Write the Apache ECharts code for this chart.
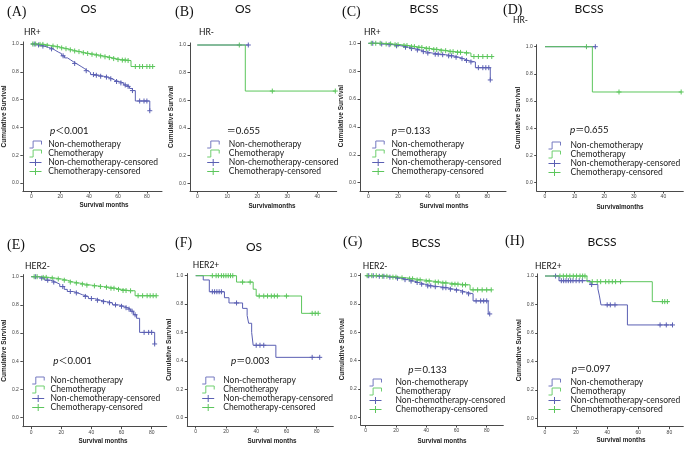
<!DOCTYPE html>
<html><head><meta charset="utf-8">
<script src="https://cdn.jsdelivr.net/npm/echarts@6/dist/echarts.min.js"></script>
<style>html,body{margin:0;padding:0;background:#fff}#c{width:687px;height:450px}</style>
</head><body><div id="c"></div>
<script>
// ---------------- DATA ----------------
const panelLetters = ['(A)','(B)','(C)','(D)','(E)','(F)','(G)','(H)'];
const panelTitles  = ['OS','OS','BCSS','BCSS','OS','OS','BCSS','BCSS'];
const subgroups    = ['HR+','HR-','HR+','HR-','HER2-','HER2+','HER2-','HER2+'];
const pPrefix      = ['p','','p','p','p','p','p','p'];
const pSign        = ['＜','＝','＝','＝','＜','＝','＝','＝'];
const pValues      = ['0.001','0.655','0.133','0.655','0.001','0.003','0.133','0.097'];
const xTitles      = ['Survival months','Survivalmonths','Survival months','Survivalmonths',
                      'Survival months','Survival months','Survival months','Survival months'];
const yTitle       = 'Cumulative Survival';
const legendNames  = ['Non-chemotherapy','Chemotherapy','Non-chemotherapy-censored','Chemotherapy-censored'];
const xTicksLong   = [0,20,40,60,80];
const xTicksShort  = [0,10,20,30,40];
const yTicks       = [0,0.2,0.4,0.6,0.8,1.0];

// Kaplan-Meier steps: [month, cumulative survival after that month's events]; censored: months
const A_non = [[0,1],[3,0.993],[6,0.985],[9,0.975],[12,0.965],[15,0.952],[17,0.94],[19,0.93],[21,0.915],[23,0.9],[25,0.887],[27,0.873],[29,0.86],[31,0.848],[33,0.835],[35,0.822],[37,0.808],[39,0.795],[41,0.78],[44,0.775],[47,0.768],[50,0.762],[53,0.75],[56,0.738],[58,0.73],[61,0.72],[64,0.705],[66,0.695],[68,0.68],[70,0.665],[72,0.59],[82,0.52]];
const A_nonCens = [2,5,8,14,22,30,38,43,45,48,52,55,59,62,65,67,70,75,78,80,82];
const A_chemo = [[0,1],[4,0.997],[9,0.99],[13,0.985],[16,0.98],[19,0.972],[22,0.966],[25,0.958],[28,0.95],[31,0.945],[34,0.937],[37,0.932],[40,0.926],[44,0.92],[47,0.914],[50,0.908],[53,0.902],[56,0.895],[59,0.888],[62,0.884],[66,0.881],[69,0.838],[84,0.838]];
const A_chemoCens = [1,3,6,8,11,15,18,21,24,27,30,33,36,39,42,45,48,51,54,57,60,63,65,67,72,75,77,80,82,84];

const B_non = [[0,1],[17,1]];
const B_nonCens = [17];
const B_chemo = [[0,1],[16,0.667],[46,0.667]];
const B_chemoCens = [14,25,46];

const C_non = [[0,1],[6,0.995],[12,0.99],[17,0.982],[22,0.972],[27,0.962],[31,0.952],[35,0.94],[38,0.93],[43,0.922],[48,0.918],[52,0.91],[57,0.9],[61,0.89],[64,0.877],[67,0.866],[72,0.825],[82,0.737]];
const C_nonCens = [3,9,14,19,25,29,33,37,40,45,47,50,54,56,59,63,66,69,74,77,79,81,82];
const C_chemo = [[0,1],[10,0.995],[16,0.99],[22,0.984],[27,0.976],[32,0.97],[37,0.962],[42,0.955],[48,0.947],[53,0.94],[58,0.935],[64,0.93],[69,0.905],[84,0.905]];
const C_chemoCens = [2,5,8,12,15,18,20,24,26,29,31,34,36,39,41,44,46,49,52,55,57,60,62,66,71,74,77,80,83];

const D_non = [[0,1],[17,1]];
const D_nonCens = [17];
const D_chemo = [[0,1],[16,0.667],[46,0.667]];
const D_chemoCens = [14,25,46];

const E_non = [[0,1],[5,0.99],[9,0.975],[13,0.962],[16,0.948],[19,0.93],[22,0.91],[24,0.895],[28,0.885],[31,0.872],[34,0.86],[38,0.845],[42,0.833],[46,0.823],[50,0.815],[54,0.8],[58,0.79],[62,0.78],[64,0.77],[66,0.755],[68,0.73],[70,0.705],[72,0.605],[82,0.523]];
const E_nonCens = [3,7,11,15,21,26,30,36,40,44,48,52,56,60,63,65,67,69,75,78,80,82];
const E_chemo = [[0,1],[6,0.995],[12,0.99],[16,0.984],[20,0.975],[24,0.962],[28,0.955],[32,0.947],[36,0.94],[40,0.935],[44,0.93],[48,0.925],[52,0.918],[56,0.91],[60,0.902],[65,0.9],[69,0.865],[83,0.865]];
const E_chemoCens = [2,4,8,10,14,18,22,26,30,34,37,42,46,50,53,55,58,61,63,66,71,74,77,79,81,83];

const F_non = [[0,1],[5,0.97],[9,0.887],[19,0.845],[22,0.808],[31,0.77],[34,0.72],[35,0.665],[37,0.6],[38,0.51],[53,0.425],[82,0.425]];
const F_nonCens = [11,12.5,14,15.5,17,27,40,42.5,45,77,82];
const F_chemo = [[0,1],[27,0.955],[38,0.905],[40,0.857],[70,0.735],[81,0.735]];
const F_chemoCens = [11,13.5,15,17,18.5,20,21.5,23,24.5,31,36,42,45,47.5,50,52,54,60,77,79,81];

const G_non = [[0,1],[8,0.996],[14,0.99],[19,0.982],[24,0.972],[28,0.962],[32,0.952],[35,0.94],[39,0.928],[44,0.922],[49,0.915],[54,0.905],[58,0.898],[62,0.885],[66,0.872],[71,0.822],[81,0.73],[82,0.73]];
const G_nonCens = [2,5,9,12,16,21,26,30,34,37,41,43,46,51,53,56,60,64,68,73,76,78,80,82];
const G_chemo = [[0,1],[10,0.996],[16,0.99],[22,0.985],[27,0.978],[32,0.97],[38,0.962],[44,0.955],[49,0.948],[55,0.94],[62,0.935],[69,0.9],[83,0.9]];
const G_chemoCens = [1,4,7,11,14,18,20,24,29,31,34,36,40,42,46,48,51,53,57,59,61,64,66,71,74,77,80,83];

const H_non = [[0,1],[9,0.967],[29,0.94],[34,0.91],[35,0.86],[36,0.797],[53,0.656],[82,0.656]];
const H_nonCens = [6.8,10.5,12,13.5,15,16.5,18,20,22,24,30,40,42,45,74,78,82];
const H_chemo = [[0,1],[27,0.96],[69,0.82],[80,0.82]];
const H_chemoCens = [9.6,11.8,13.9,16,18.2,20.3,22.5,24.2,25.7,30.4,33.6,35.8,39,41.1,43.3,45.4,48.6,75.5,77,78.7];

const panels = [
  {non:A_non, nonC:A_nonCens, chemo:A_chemo, chemoC:A_chemoCens, ticks:xTicksLong},
  {non:B_non, nonC:B_nonCens, chemo:B_chemo, chemoC:B_chemoCens, ticks:xTicksShort},
  {non:C_non, nonC:C_nonCens, chemo:C_chemo, chemoC:C_chemoCens, ticks:xTicksLong},
  {non:D_non, nonC:D_nonCens, chemo:D_chemo, chemoC:D_chemoCens, ticks:xTicksShort},
  {non:E_non, nonC:E_nonCens, chemo:E_chemo, chemoC:E_chemoCens, ticks:xTicksLong},
  {non:F_non, nonC:F_nonCens, chemo:F_chemo, chemoC:F_chemoCens, ticks:xTicksLong},
  {non:G_non, nonC:G_nonCens, chemo:G_chemo, chemoC:G_chemoCens, ticks:xTicksLong},
  {non:H_non, nonC:H_nonCens, chemo:H_chemo, chemoC:H_chemoCens, ticks:xTicksLong}
];

// ---------------- LAYOUT (pixels) ----------------
const layout = [
  {axX:20.7, x0:29.3, ppm:1.467, xR:162,   y1:44,    y0:183,   axY:191,   letter:[7,12.5],  title:[88.5,9],   sub:[24,32],     p:[50,131],    leg:[29,144,1.7],   xt:[104,205], yt:6},
  {axX:190,  x0:197.3,ppm:3.0,   xR:336.7, y1:45,    y0:183.3, axY:191,   letter:[175,12.5],title:[243,9],    sub:[199,32],    p:[226.7,131], leg:[206.7,144,4.6],xt:[272,206], yt:174},
  {axX:360,  x0:368.3,ppm:1.4875,xR:506,   y1:43.3,  y0:182.7, axY:191,   letter:[342,12.5],title:[424,9],    sub:[364,32],    p:[391.7,131], leg:[371.7,144,2.3],xt:[444,206], yt:344},
  {axX:536.7,x0:545,  ppm:2.96,  xR:683.3, y1:46.7,  y0:182.7, axY:191,   letter:[503,10.5],title:[589,9],    sub:[513,20],    p:[570,130],   leg:[548,145,5],    xt:[620,207], yt:521},
  {axX:22.7, x0:31,   ppm:1.508, xR:166.7, y1:276.7, y0:417.7, axY:426.7, letter:[7,245],   title:[87.5,248], sub:[25,266.7],  p:[53.3,361],  leg:[31.7,380,1.3], xt:[103,441], yt:5},
  {axX:187.3,x0:195.7,ppm:1.5125,xR:333.3, y1:275.7, y0:417.7, axY:426,   letter:[175,243], title:[254,246.7],sub:[192.7,265], p:[231,361],   leg:[201.7,380,4],  xt:[272,441], yt:174},
  {axX:360.7,x0:365.7,ppm:1.5125,xR:503.3, y1:275.7, y0:417.3, axY:425,   letter:[343,242], title:[426,243.3],sub:[362.7,266.7],p:[408.3,370],leg:[369,382,9],    xt:[442,441], yt:344},
  {axX:537.7,x0:545,  ppm:1.555, xR:683.3, y1:276,   y0:418.3, axY:426.7, letter:[505,241], title:[602,241.7],sub:[535,266.7], p:[571.7,369], leg:[548,382,5],    xt:[621,440], yt:520}
];

const BLUE = '#5a5fb3', GREEN = '#5cc65c', BLUE_L = '#7479c0', GREEN_L = '#6fcf6f';
const AXIS = '#4a4a4a';
const PLUS = 'path://M0,5L10,5M5,0L5,10';
const STEP = 'path://M0,9L3,9L3,1L10,1L10,5';
const Y_MAX = 1.015;
const YT_FS = 6.5;

function survAt(curve, t) {
  let s = curve[0][1];
  for (const [ti, si] of curve) { if (ti <= t) s = si; else break; }
  return s;
}

const grids = [], xAxes = [], yAxes = [], series = [], legends = [], graphics = [];

layout.forEach((L, i) => {
  const P = panels[i];
  const pxPerUnit = L.y0 - L.y1;
  const top = L.y1 - (Y_MAX - 1) * pxPerUnit;
  const yMin = -(L.axY - L.y0) / pxPerUnit;
  const xMin = (L.axX - L.x0) / L.ppm;
  const xMax = (L.xR - L.x0) / L.ppm;
  grids.push({left: L.axX, top: top, width: L.xR - L.axX, height: L.axY - top, containLabel: false});
  xAxes.push({
    type: 'value', gridIndex: i, min: xMin, max: xMax,
    axisLine: {show: true, onZero: false, lineStyle: {color: AXIS, width: 1}},
    axisTick: {show: true, length: 2.5, customValues: P.ticks, lineStyle: {color: AXIS, width: 1}},
    axisLabel: {customValues: P.ticks, fontSize: 5, margin: 3.5, color: '#444', fontFamily: 'Liberation Sans'},
    splitLine: {show: false}
  });
  yAxes.push({
    type: 'value', gridIndex: i, min: yMin, max: Y_MAX,
    name: yTitle, nameLocation: 'middle', nameRotate: 90,
    nameGap: L.axX - L.yt - YT_FS / 2,
    nameTextStyle: {fontSize: YT_FS, fontWeight: 'bold', fontFamily: 'Liberation Sans', color: '#222'},
    axisLine: {show: true, onZero: false, lineStyle: {color: AXIS, width: 1}},
    axisTick: {show: true, length: 2.5, customValues: yTicks, lineStyle: {color: AXIS, width: 1}},
    axisLabel: {customValues: yTicks, fontSize: 5, margin: 4, color: '#444', fontFamily: 'Liberation Sans',
                formatter: v => v.toFixed(1)},
    splitLine: {show: false}
  });
  series.push(
    {type: 'line', name: legendNames[0], xAxisIndex: i, yAxisIndex: i, data: P.non, step: 'end',
     symbol: 'none', silent: true, animation: false, lineStyle: {color: BLUE, width: 1}, itemStyle: {color: BLUE}},
    {type: 'line', name: legendNames[1], xAxisIndex: i, yAxisIndex: i, data: P.chemo, step: 'end',
     symbol: 'none', silent: true, animation: false, lineStyle: {color: GREEN, width: 1}, itemStyle: {color: GREEN}},
    {type: 'scatter', name: legendNames[2], xAxisIndex: i, yAxisIndex: i,
     data: P.nonC.map(t => [t, survAt(P.non, t)]), symbol: PLUS, symbolSize: 5, silent: true, animation: false,
     itemStyle: {color: 'rgba(0,0,0,0)', borderColor: BLUE, borderWidth: 1, opacity: 1}},
    {type: 'scatter', name: legendNames[3], xAxisIndex: i, yAxisIndex: i,
     data: P.chemoC.map(t => [t, survAt(P.chemo, t)]), symbol: PLUS, symbolSize: 5, silent: true, animation: false,
     itemStyle: {color: 'rgba(0,0,0,0)', borderColor: GREEN, borderWidth: 1, opacity: 1}}
  );
  legends.push({
    orient: 'vertical', left: L.leg[0], top: L.leg[1] - 4, padding: 0,
    itemWidth: 12, itemHeight: 7, itemGap: 0, symbolKeepAspect: false, selectedMode: false,
    textStyle: {fontSize: 8.5, lineHeight: 8, color: '#222', fontFamily: 'Lato', padding: [0, 0, 0, L.leg[2]]},
    data: [
      {name: legendNames[0], icon: STEP, itemStyle: {color: 'rgba(0,0,0,0)', borderColor: BLUE_L, borderWidth: 1}},
      {name: legendNames[1], icon: STEP, itemStyle: {color: 'rgba(0,0,0,0)', borderColor: GREEN_L, borderWidth: 1}},
      {name: legendNames[2], icon: PLUS, itemStyle: {color: 'rgba(0,0,0,0)', borderColor: BLUE, borderWidth: 1}},
      {name: legendNames[3], icon: PLUS, itemStyle: {color: 'rgba(0,0,0,0)', borderColor: GREEN, borderWidth: 1}}
    ]
  });
  const txt = (x, y, text, style) => graphics.push({type: 'text', x: x, y: y, silent: true,
    style: Object.assign({text: text, fill: '#111', textVerticalAlign: 'middle', verticalAlign: 'middle'}, style)});
  txt(L.letter[0], L.letter[1], panelLetters[i], {fontSize: 14, fontFamily: 'Liberation Serif'});
  txt(L.title[0], L.title[1], panelTitles[i], {fontSize: 12, fontFamily: 'Lato', textAlign: 'center', align: 'center'});
  txt(L.sub[0], L.sub[1], subgroups[i], {fontSize: 8.5, fontFamily: 'Lato'});
  txt(L.xt[0], L.xt[1], xTitles[i], {fontSize: 6.3, fontWeight: 'bold', fontFamily: 'Liberation Sans', fill: '#222',
      textAlign: 'center', align: 'center'});
  txt(L.p[0], L.p[1], (pPrefix[i] ? '{i|' + pPrefix[i] + '}' : '') + '{s|' + pSign[i] + '}{v|' + pValues[i] + '}', {
    rich: {
      i: {fontSize: 10, fontStyle: 'italic', fontFamily: 'Lato', fill: '#111'},
      s: {fontSize: 9, fontFamily: 'Noto Sans CJK SC', fill: '#111'},
      v: {fontSize: 9.5, fontFamily: 'Lato', fill: '#111'}
    }
  });
});

const chart = echarts.init(document.getElementById('c'), null, {renderer: 'canvas'});
chart.setOption({
  backgroundColor: '#ffffff',
  animation: false,
  grid: grids, xAxis: xAxes, yAxis: yAxes, series: series, legend: legends,
  graphic: graphics
});
</script>
</body></html>
